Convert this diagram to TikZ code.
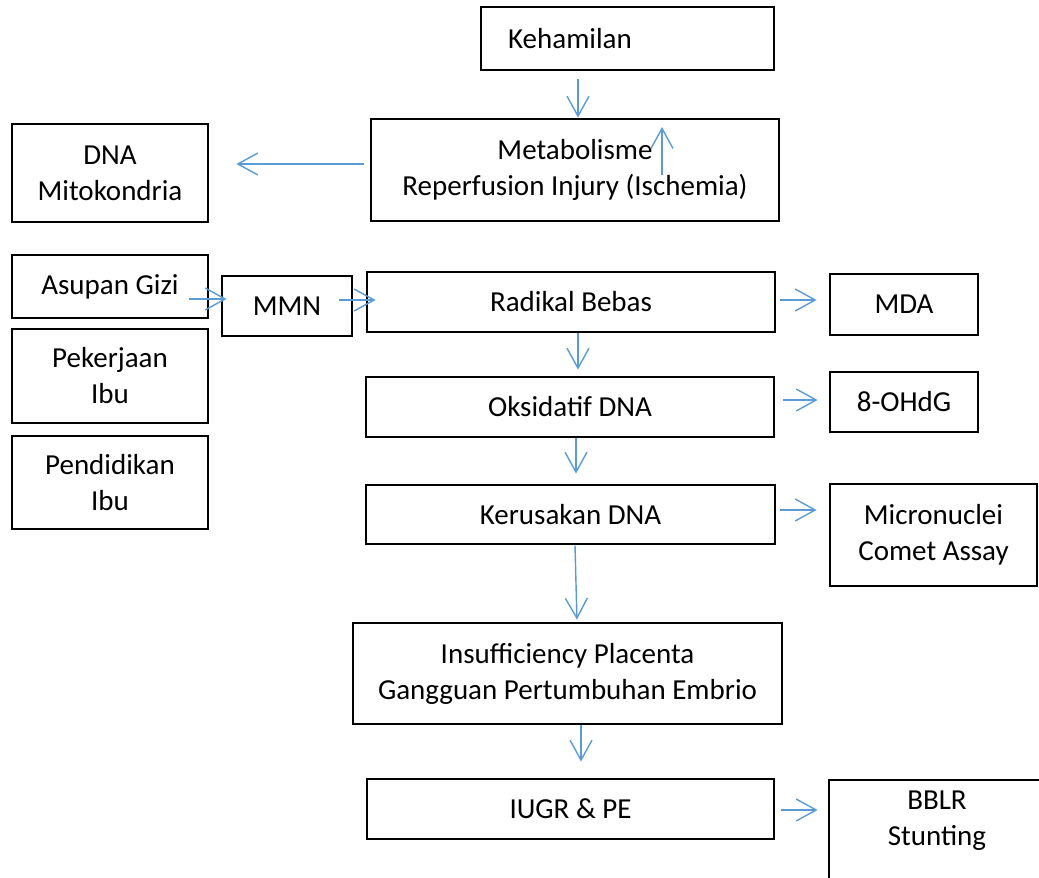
\documentclass[tikz,border=0pt]{standalone}
\usepackage{fontspec}
\setmainfont{Carlito}
\usetikzlibrary{arrows.meta}
\definecolor{arrblue}{RGB}{91,155,213}
\tikzset{
  lbl/.style={font=\fontsize{14.5}{18}\selectfont, align=center},
  box/.style={draw, line width=1.4pt, lbl, inner sep=0pt},
  arr/.style={draw=arrblue, line width=0.7pt, -{Straight Barb[length=10pt,width=11pt]}},
}
\begin{document}
\begin{tikzpicture}[x=0.5pt, y=-0.5pt]
\useasboundingbox (0,0) rectangle (1039,878);
% middle column
\node[box, minimum width=146.5pt, minimum height=31.5pt, label={[lbl, xshift=-28.75pt]center:Kehamilan}] (keh) at (627.5,38.5) {};
\node[box, minimum width=204pt, minimum height=51pt] (met) at (575,170) {Metabolisme\\Reperfusion Injury (Ischemia)};
\node[box, minimum width=204pt, minimum height=30pt] (rad) at (571,302) {Radikal Bebas};
\node[box, minimum width=204pt, minimum height=30pt] (oks) at (570,407) {Oksidatif DNA};
\node[box, minimum width=204.5pt, minimum height=29.5pt] (ker) at (570.5,514.5) {Kerusakan DNA};
\node[box, minimum width=214.5pt, minimum height=50.5pt] (ins) at (567.5,673.5) {Insufficiency Placenta\\Gangguan Pertumbuhan Embrio};
\node[box, minimum width=203.5pt, minimum height=30pt] (iugr) at (570.5,809) {IUGR \& PE};
% left column
\node[box, minimum width=98pt, minimum height=49pt] (dnam) at (110,173) {DNA\\Mitokondria};
\node[box, minimum width=98pt, minimum height=31.5pt] (asup) at (110,286.5) {Asupan Gizi};
\node[box, minimum width=65pt, minimum height=30pt] (mmn) at (287,306) {MMN};
\node[box, minimum width=98pt, minimum height=47pt] (pek) at (110,376) {Pekerjaan\\Ibu};
\node[box, minimum width=98pt, minimum height=46.5pt] (pend) at (110,482.5) {Pendidikan\\Ibu};
% right column
\node[box, minimum width=74pt, minimum height=30.5pt] (mda) at (904,304.5) {MDA};
\node[box, minimum width=74pt, minimum height=30pt] (ohdg) at (904,402) {8-OHdG};
\node[box, minimum width=103.5pt, minimum height=51pt] (micro) at (933.5,535) {Micronuclei\\Comet Assay};
\node[box, minimum width=108pt, minimum height=52pt, label={[lbl, anchor=north, yshift=-2.5pt]north:BBLR\\Stunting}] (bblr) at (937,832) {};

% arrows
\coordinate (up1) at (662,175);
\coordinate (up2) at (662,127);
\draw[arr, shorten <=4pt] ([xshift=1.5pt]keh.south -| met.north) -- ([xshift=1.5pt]met.north);
\draw[arr] (up1) -- (up2);
\draw[arr, shorten <=3pt, shorten >=13.5pt] ([yshift=3pt]met.west) -- ([yshift=4.5pt]dnam.east);
\draw[arr] ([xshift=-10pt, yshift=-6.25pt]asup.east) -- ([xshift=3pt, yshift=3.5pt]mmn.west);
\draw[arr] ([xshift=-7pt, yshift=3pt]mmn.east) -- ([xshift=5pt, yshift=1pt]rad.west);
\draw[arr, shorten <=2pt, shorten >=6pt] ([yshift=1pt]rad.east) -- ([yshift=2.25pt]mda.west);
\draw[arr, shorten >=3pt] ([xshift=3.5pt]rad.south) -- ([xshift=4pt]oks.north);
\draw[arr, shorten <=4pt, shorten >=5.5pt] ([yshift=3.5pt]oks.east) -- ([yshift=1pt]ohdg.west);
\draw[arr, shorten >=5pt] ([xshift=3pt]oks.south) -- ([xshift=2.75pt]ker.north);
\draw[arr, shorten <=2pt, shorten >=6pt] ([yshift=2.25pt]ker.east) -- ([yshift=12.5pt]micro.west);
\draw[arr, shorten >=1pt] ([xshift=2.25pt]ker.south) -- ([xshift=4.75pt]ins.north);
\draw[arr, shorten >=8pt] ([xshift=6.75pt]ins.south) -- ([xshift=5.25pt]iugr.north);
\draw[arr, shorten <=3pt, shorten >=5pt] ([yshift=-0.5pt]iugr.east) -- ([yshift=11pt]bblr.west);
\end{tikzpicture}
\end{document}
